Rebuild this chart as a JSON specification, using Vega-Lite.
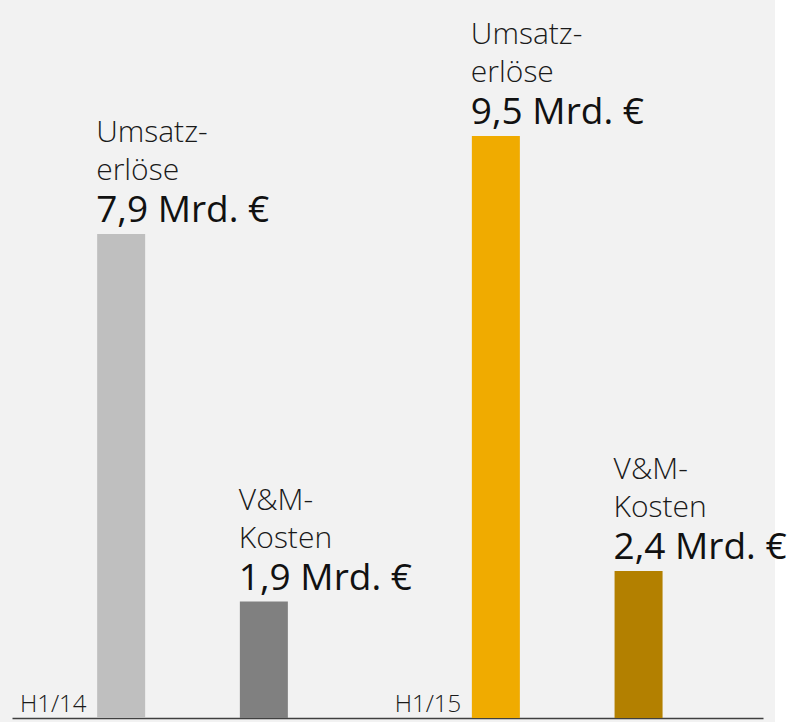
{
  "$schema": "https://vega.github.io/schema/vega-lite/v6.json",
  "width": 775,
  "height": 722,
  "autosize": {"type": "none"},
  "padding": {"left": 0, "top": 0, "right": 18, "bottom": 0},
  "background": "#ffffff",
  "config": {"view": {"stroke": null, "fill": "#f2f2f2"}},
  "data": {
    "values": [
      {"period": "H1/14", "metric": "Umsatzerlöse", "key": "U14", "value": 7.9, "l1": "Umsatz-", "l2": "erlöse", "valueLabel": "7,9 Mrd. €"},
      {"period": "H1/14", "metric": "V&M-Kosten", "key": "V14", "value": 1.9, "l1": "V&M-", "l2": "Kosten", "valueLabel": "1,9 Mrd. €"},
      {"period": "H1/15", "metric": "Umsatzerlöse", "key": "U15", "value": 9.5, "l1": "Umsatz-", "l2": "erlöse", "valueLabel": "9,5 Mrd. €"},
      {"period": "H1/15", "metric": "V&M-Kosten", "key": "V15", "value": 2.4, "l1": "V&M-", "l2": "Kosten", "valueLabel": "2,4 Mrd. €"}
    ]
  },
  "encoding": {
    "x": {
      "field": "period",
      "type": "nominal",
      "sort": ["H1/14", "H1/15"],
      "scale": {"range": [12, 763], "paddingInner": 0.2383, "paddingOuter": 0.1213, "align": 0.416, "round": false},
      "axis": {
        "title": null,
        "ticks": false,
        "grid": false,
        "offset": -4,
        "domainColor": "#404040",
        "domainWidth": 1.5,
        "labelAngle": 0,
        "labelAlign": "right",
        "labelBaseline": "alphabetic",
        "labelPadding": -7,
        "labelOffset": -106,
        "labelFont": "Open Sans",
        "labelFontWeight": 300,
        "labelFontSize": 24,
        "labelColor": "#1a1a1a"
      }
    },
    "xOffset": {
      "field": "metric",
      "type": "nominal",
      "sort": ["Umsatzerlöse", "V&M-Kosten"],
      "scale": {"paddingInner": 0, "paddingOuter": 0}
    },
    "y": {
      "field": "value",
      "type": "quantitative",
      "scale": {"domain": [0, 11.72], "range": [718, 0], "nice": false, "zero": true},
      "axis": null
    }
  },
  "layer": [
    {
      "mark": {"type": "bar", "width": 48},
      "encoding": {
        "color": {
          "field": "key",
          "type": "nominal",
          "scale": {"domain": ["U14", "V14", "U15", "V15"], "range": ["#bfbfbf", "#808080", "#f0ab00", "#b38000"]},
          "legend": null
        }
      }
    },
    {
      "mark": {"type": "text", "align": "left", "baseline": "alphabetic", "dx": -25, "dy": -12, "font": "Open Sans", "fontSize": 37, "fontWeight": 400, "color": "#111111"},
      "encoding": {"text": {"field": "valueLabel"}}
    },
    {
      "mark": {"type": "text", "align": "left", "baseline": "alphabetic", "dx": -25, "dy": -54, "font": "Open Sans", "fontSize": 30, "fontWeight": 300, "color": "#1a1a1a"},
      "encoding": {"text": {"field": "l2"}}
    },
    {
      "mark": {"type": "text", "align": "left", "baseline": "alphabetic", "dx": -25, "dy": -92, "font": "Open Sans", "fontSize": 30, "fontWeight": 300, "color": "#1a1a1a"},
      "encoding": {"text": {"field": "l1"}}
    }
  ]
}
